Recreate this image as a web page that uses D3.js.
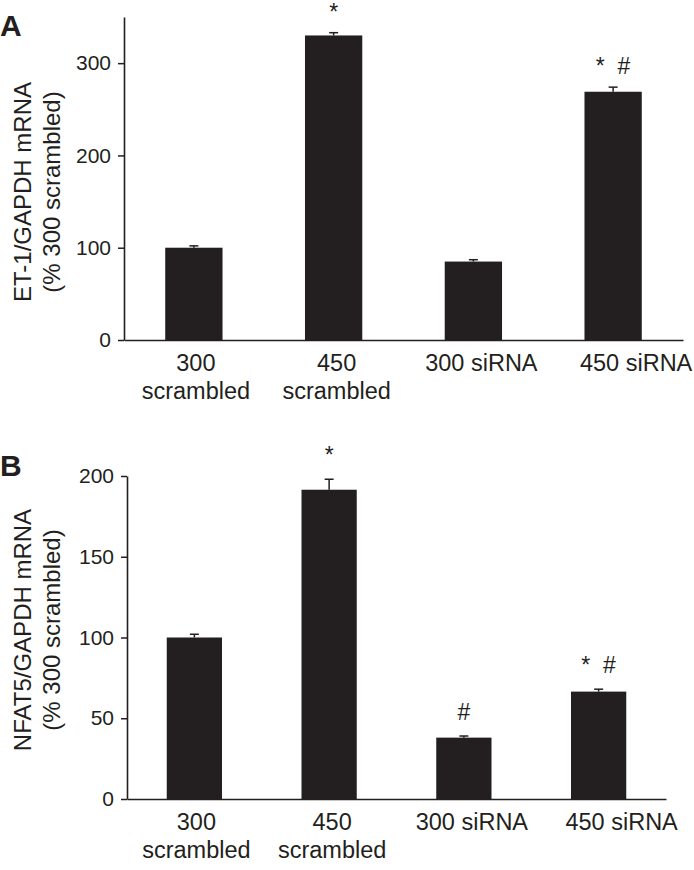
<!DOCTYPE html>
<html>
<head>
<meta charset="utf-8">
<script src="https://cdn.jsdelivr.net/npm/d3@7"></script>
<style>
  html, body { margin: 0; padding: 0; background: #fff; }
  svg { display: block; font-family: "Liberation Sans", Arial, sans-serif; }
</style>
</head>
<body>
<svg id="chart" width="694" height="870"></svg>
<script>
// ---- Data ----
const categories = ["300 scrambled", "450 scrambled", "300 siRNA", "450 siRNA"];
const categoryLines = [["300", "scrambled"], ["450", "scrambled"], ["300 siRNA"], ["450 siRNA"]];

const et1Values = [100, 330, 85, 269];
const et1Errors = [2, 3, 2, 5];
const et1Marks = ["", "*", "", "*  #"];
const et1Ticks = [0, 100, 200, 300];

const nfat5Values = [100, 191.5, 38, 66.5];
const nfat5Errors = [2, 6.5, 1, 1.5];
const nfat5Marks = ["", "*", "#", "*  #"];
const nfat5Ticks = [0, 50, 100, 150, 200];

const INK = "#231f20";
const svg = d3.select("#chart");

// layout: small horizontal nudges of category labels, as in the original figure
const LABEL_NUDGE = [2, 3, 8, 23];

function panel(opts) {
  const g = svg.append("g");
  const x = d3.scaleBand().domain(categories).range(opts.xRange)
    .paddingInner(0.59).paddingOuter(0.295);
  const y = d3.scaleLinear().domain(opts.yDomain).range(opts.yRange);
  const cx = i => x(categories[i]) + x.bandwidth() / 2;

  // bars
  g.selectAll("rect.bar").data(opts.values).join("rect")
    .attr("class", "bar")
    .attr("x", (d, i) => x(categories[i]))
    .attr("width", x.bandwidth())
    .attr("y", d => y(d))
    .attr("height", d => y(0) - y(d))
    .attr("fill", INK);

  // error bars (upper only)
  const eb = g.selectAll("g.err").data(opts.values).join("g").attr("class", "err");
  eb.append("line")
    .attr("x1", (d, i) => cx(i))
    .attr("x2", (d, i) => cx(i))
    .attr("y1", d => y(d))
    .attr("y2", (d, i) => y(d + opts.errors[i]))
    .attr("stroke", INK).attr("stroke-width", 1.5);
  eb.append("line")
    .attr("x1", (d, i) => cx(i) - 4.5)
    .attr("x2", (d, i) => cx(i) + 4.5)
    .attr("y1", (d, i) => y(d + opts.errors[i]))
    .attr("y2", (d, i) => y(d + opts.errors[i]))
    .attr("stroke", INK).attr("stroke-width", 1.5);

  // significance marks
  g.selectAll("text.mark").data(opts.marks).join("text")
    .attr("class", "mark")
    .attr("x", (d, i) => cx(i))
    .attr("y", (d, i) => y(opts.values[i] + opts.errors[i]) - opts.markGap)
    .attr("text-anchor", "middle")
    .attr("font-size", 23)
    .attr("fill", INK)
    .style("white-space", "pre")
    .text(d => d);

  // y axis
  const ya = g.append("g")
    .attr("transform", `translate(${opts.xRange[0]},0)`)
    .call(d3.axisLeft(y).tickValues(opts.ticks).tickSize(6).tickSizeOuter(0).tickPadding(7));
  ya.select(".domain").attr("stroke", INK).attr("stroke-width", 1.6);
  ya.selectAll(".tick line").attr("stroke", INK).attr("stroke-width", 1.5);
  ya.selectAll(".tick text").attr("font-size", 21).attr("fill", INK)
    .attr("font-family", "Liberation Sans, Arial, sans-serif");

  // x axis
  const xa = g.append("g")
    .attr("transform", `translate(0,${y(0)})`)
    .call(d3.axisBottom(x).tickSize(0).tickSizeOuter(0).tickFormat(""));
  xa.select(".domain").attr("stroke", INK).attr("stroke-width", 1.6);

  // category labels
  const lab = g.selectAll("text.cat").data(categoryLines).join("text")
    .attr("class", "cat")
    .attr("text-anchor", "middle")
    .attr("font-size", 23.5)
    .attr("fill", INK)
    .attr("transform", (d, i) => `translate(${cx(i) + LABEL_NUDGE[i]},${y(0) + opts.labelOffset})`);
  lab.selectAll("tspan").data(d => d).join("tspan")
    .attr("x", 0)
    .attr("dy", (d, j) => j === 0 ? 0 : 28)
    .text(d => d);

  // y title (two lines, rotated)
  const ty = g.append("text")
    .attr("transform", `translate(${opts.titleX},${opts.titleY}) rotate(-90)`)
    .attr("text-anchor", "middle")
    .attr("font-size", 24)
    .attr("fill", INK);
  opts.title.forEach((t, j) => {
    ty.append("tspan").attr("x", 0).attr("dy", j === 0 ? 0 : 29).text(t);
  });

  // panel letter
  g.append("text")
    .attr("x", 0).attr("y", opts.letterY)
    .attr("font-size", 30).attr("font-weight", "bold")
    .attr("fill", INK)
    .text(opts.letter);
}

panel({
  letter: "A", letterY: 36,
  values: et1Values, errors: et1Errors, marks: et1Marks, ticks: et1Ticks,
  xRange: [124, 683], yDomain: [0, 350], yRange: [340, 17],
  markGap: 13, labelOffset: 31,
  title: ["ET-1/GAPDH mRNA", "(% 300 scrambled)"], titleX: 31, titleY: 192
});

panel({
  letter: "B", letterY: 476,
  values: nfat5Values, errors: nfat5Errors, marks: nfat5Marks, ticks: nfat5Ticks,
  xRange: [127, 666], yDomain: [0, 200], yRange: [799, 476],
  markGap: 16, labelOffset: 31,
  title: ["NFAT5/GAPDH mRNA", "(% 300 scrambled)"], titleX: 31, titleY: 630
});
</script>
</body>
</html>
